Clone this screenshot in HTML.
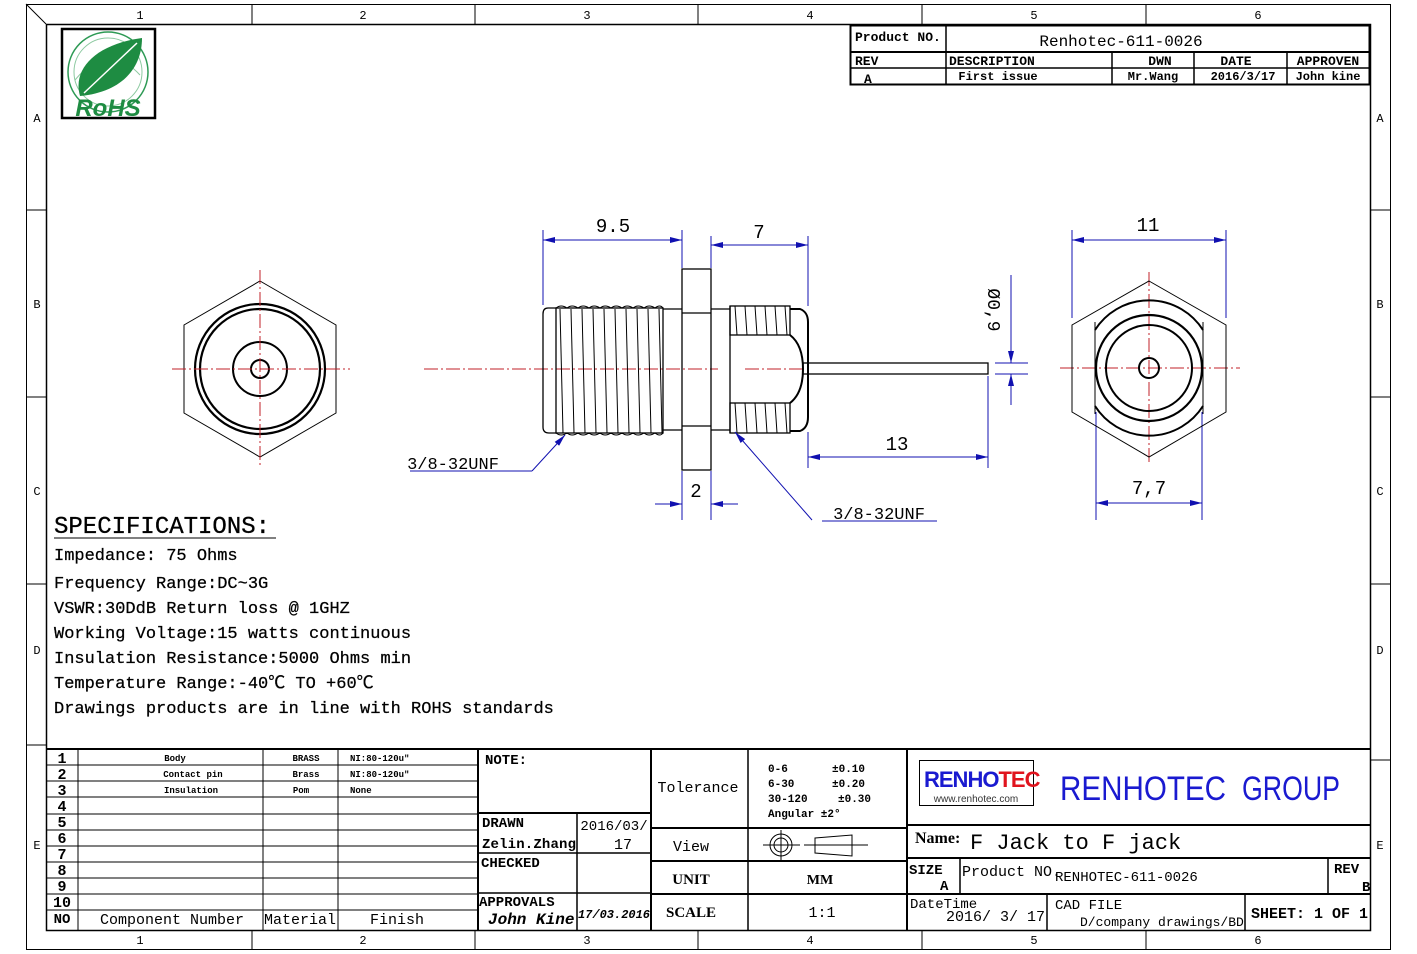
<!DOCTYPE html>
<html><head><meta charset="utf-8"><style>
html,body{margin:0;padding:0;background:#fff}
svg{display:block}
text{font-family:"Liberation Mono","Noto Sans CJK SC",monospace;fill:#000}
.s{font-family:"Liberation Serif","Noto Serif CJK SC",serif;font-weight:bold}
.d{font-family:"Liberation Sans",sans-serif;fill:#222}
</style></head><body>
<svg width="1417" height="954" viewBox="0 0 1417 954" xmlns="http://www.w3.org/2000/svg">
<defs>
<marker id="a" viewBox="0 0 12 6" refX="12" refY="3" markerWidth="12" markerHeight="6" orient="auto-start-reverse" markerUnits="userSpaceOnUse"><path d="M0,0L12,3L0,6z" fill="#1010b0"/></marker>
</defs>
<rect x="26.5" y="4.5" width="1364" height="945" fill="none" stroke="#000" stroke-width="1"/>
<rect x="46.5" y="24.5" width="1324" height="906" fill="none" stroke="#000" stroke-width="1.5"/>
<line x1="26" y1="4" x2="46" y2="24" stroke="#000"/>
<g stroke="#000" stroke-width="1">
<line x1="252" y1="4" x2="252" y2="24"/><line x1="475" y1="4" x2="475" y2="24"/><line x1="698" y1="4" x2="698" y2="24"/><line x1="922" y1="4" x2="922" y2="24"/><line x1="1146" y1="4" x2="1146" y2="24"/>
<line x1="252" y1="930" x2="252" y2="949"/><line x1="475" y1="930" x2="475" y2="949"/><line x1="698" y1="930" x2="698" y2="949"/><line x1="922" y1="930" x2="922" y2="949"/><line x1="1146" y1="930" x2="1146" y2="949"/>
<line x1="26" y1="210" x2="46" y2="210"/><line x1="26" y1="397" x2="46" y2="397"/><line x1="26" y1="584" x2="46" y2="584"/><line x1="26" y1="745" x2="46" y2="745"/>
<line x1="1370" y1="210" x2="1390" y2="210"/><line x1="1370" y1="397" x2="1390" y2="397"/><line x1="1370" y1="584" x2="1390" y2="584"/><line x1="1370" y1="760" x2="1390" y2="760"/>
</g>
<g font-size="12" text-anchor="middle" style="font-family:'Liberation Serif',serif">
<text x="140" y="19">1</text><text x="363" y="19">2</text><text x="587" y="19">3</text><text x="810" y="19">4</text><text x="1034" y="19">5</text><text x="1258" y="19">6</text>
<text x="140" y="944">1</text><text x="363" y="944">2</text><text x="587" y="944">3</text><text x="810" y="944">4</text><text x="1034" y="944">5</text><text x="1258" y="944">6</text>
<text x="37" y="122">A</text><text x="37" y="308">B</text><text x="37" y="495">C</text><text x="37" y="654">D</text><text x="37" y="849">E</text>
<text x="1380" y="122">A</text><text x="1380" y="308">B</text><text x="1380" y="495">C</text><text x="1380" y="654">D</text><text x="1380" y="849">E</text>
</g>
<rect x="62" y="29" width="93" height="89" fill="#fff" stroke="#000" stroke-width="2.5"/>
<circle cx="108" cy="72" r="40" fill="none" stroke="#2e9a55" stroke-width="1.5"/>
<circle cx="108" cy="72" r="34" fill="none" stroke="#8cc9a0" stroke-width="1"/>
<path d="M75,80 Q108,40 140,75" fill="none" stroke="#8cc9a0" stroke-width="1"/>
<path d="M80,96 C72,68 97,44 142,38 C142,68 122,92 80,96z" fill="#1e8c42"/>
<path d="M84,93 L137,43" stroke="#fff" stroke-width="1.5"/>
<text x="108" y="116" text-anchor="middle" font-size="24" font-weight="bold" style="font-family:'Liberation Sans',sans-serif;fill:#1e8c42;font-style:italic">RoHS</text>
<g stroke="#000" fill="none">
<rect x="850.5" y="25.5" width="519" height="59" stroke-width="2"/>
<line x1="850" y1="52" x2="1370" y2="52" stroke-width="2"/>
<line x1="850" y1="68" x2="1370" y2="68" stroke-width="1.5"/>
<line x1="946" y1="25" x2="946" y2="85" stroke-width="1.5"/>
<line x1="1112" y1="52" x2="1112" y2="85" stroke-width="1.5"/>
<line x1="1194" y1="52" x2="1194" y2="85" stroke-width="1.5"/>
<line x1="1287" y1="52" x2="1287" y2="85" stroke-width="1.5"/>
</g>
<g class="s">
<text x="855" y="41" font-size="13" style="font-family:'Liberation Mono',monospace">Product NO.</text>
<text x="1121" y="46" font-size="16" text-anchor="middle" style="font-family:'Liberation Mono',monospace;font-weight:normal">Renhotec-611-0026</text>
<text x="855" y="65" font-size="13">REV</text>
<text x="949" y="65" font-size="13">DESCRIPTION</text>
<text x="1160" y="65" font-size="13" text-anchor="middle">DWN</text>
<text x="1236" y="65" font-size="13" text-anchor="middle">DATE</text>
<text x="1328" y="65" font-size="13" text-anchor="middle">APPROVEN</text>
<text x="864" y="83" font-size="13">A</text>
<text x="998" y="80" font-size="12" text-anchor="middle">First issue</text>
<text x="1153" y="80" font-size="12" text-anchor="middle">Mr.Wang</text>
<text x="1243" y="80" font-size="12" text-anchor="middle">2016/3/17</text>
<text x="1328" y="80" font-size="12" text-anchor="middle">John kine</text>
</g>
<g fill="none" stroke="#000">
<polygon points="260,281 336,325 336,413 260,457 184,413 184,325" stroke-width="1"/>
<circle cx="260" cy="369" r="65" stroke-width="2.2"/>
<circle cx="260" cy="369" r="60" stroke-width="2.2"/>
<circle cx="260" cy="369" r="27" stroke-width="2"/>
<circle cx="260" cy="369" r="9" stroke-width="2"/>
</g>
<g stroke="#c0202a" stroke-width="1" stroke-dasharray="14,3,2,3">
<line x1="172" y1="369" x2="350" y2="369"/><line x1="260" y1="270" x2="260" y2="468"/>
<line x1="424" y1="369" x2="718" y2="369"/><line x1="745" y1="369" x2="805" y2="369"/>
<line x1="1060" y1="368" x2="1240" y2="368"/><line x1="1149" y1="272" x2="1149" y2="465"/>
</g>
<g fill="none" stroke="#000" stroke-width="1.3">
<path d="M556,308 L548,308 Q543,308 543,314 L543,427 Q543,433 549,433 L556,433"/>
<rect x="556" y="308" width="107" height="125"/>
<line x1="663" y1="309" x2="682" y2="309"/><line x1="663" y1="430" x2="682" y2="430"/>
<rect x="682" y="269" width="29" height="201"/>
<line x1="682" y1="313" x2="711" y2="313"/><line x1="682" y1="426" x2="711" y2="426"/>
<line x1="711" y1="309" x2="730" y2="309"/><line x1="711" y1="430" x2="730" y2="430"/>
<line x1="730" y1="306" x2="730" y2="433"/>
<rect x="730" y="306" width="60" height="29"/>
<rect x="730" y="403" width="60" height="30"/>
<path d="M790,309 L800,309 Q808,312 808,322 L808,417 Q808,428 800,431 L790,431" stroke-width="2"/>
<path d="M790,335 Q803,345 803,369 Q803,393 790,403" stroke-width="2"/>
<rect x="803" y="363" width="185" height="11"/>
</g>
<g stroke="#000" stroke-width="1" fill="none">
<path d="M560,309 l3,124 M571,309 l3,124 M582,309 l3,124 M593,309 l3,124 M604,309 l3,124 M615,309 l3,124 M626,309 l3,124 M637,309 l3,124 M648,309 l3,124 M659,309 l3,124"/>
<path d="M556,308 q5,-4 11,0 q5,-4 11,0 q5,-4 11,0 q5,-4 11,0 q5,-4 11,0 q5,-4 11,0 q5,-4 11,0 q5,-4 11,0 q5,-4 11,0 q5,-4 8,0"/>
<path d="M556,433 q5,4 11,0 q5,4 11,0 q5,4 11,0 q5,4 11,0 q5,4 11,0 q5,4 11,0 q5,4 11,0 q5,4 11,0 q5,4 11,0 q5,4 8,0"/>
<path d="M735,306 l2,29 M745,306 l2,29 M755,306 l2,29 M765,306 l2,29 M775,306 l2,29 M785,306 l2,29 M735,403 l2,30 M745,403 l2,30 M755,403 l2,30 M765,403 l2,30 M775,403 l2,30 M785,403 l2,30"/>
</g>
<g stroke="#1010b0" stroke-width="1" fill="none">
<line x1="543" y1="230" x2="543" y2="305"/><line x1="682" y1="230" x2="682" y2="268"/>
<line x1="543" y1="240" x2="682" y2="240" marker-start="url(#a)" marker-end="url(#a)"/>
<line x1="711" y1="236" x2="711" y2="268"/><line x1="808" y1="236" x2="808" y2="306"/>
<line x1="711" y1="245" x2="808" y2="245" marker-start="url(#a)" marker-end="url(#a)"/>
<line x1="808" y1="432" x2="808" y2="468"/><line x1="988" y1="376" x2="988" y2="468"/>
<line x1="808" y1="457" x2="988" y2="457" marker-start="url(#a)" marker-end="url(#a)"/>
<line x1="682" y1="471" x2="682" y2="520"/><line x1="711" y1="471" x2="711" y2="520"/>
<line x1="655" y1="504" x2="682" y2="504" marker-end="url(#a)"/><line x1="738" y1="504" x2="711" y2="504" marker-end="url(#a)"/>
<line x1="1011" y1="275" x2="1011" y2="363" marker-end="url(#a)"/><line x1="1011" y1="405" x2="1011" y2="374" marker-end="url(#a)"/>
<line x1="995" y1="363" x2="1028" y2="363"/><line x1="995" y1="374" x2="1028" y2="374"/>
<line x1="410" y1="471" x2="532" y2="471"/><line x1="532" y1="471" x2="565" y2="435" marker-end="url(#a)"/>
<line x1="822" y1="521" x2="937" y2="521"/><line x1="812" y1="520" x2="735" y2="432" marker-end="url(#a)"/>
<line x1="1072" y1="230" x2="1072" y2="318"/><line x1="1226" y1="230" x2="1226" y2="318"/>
<line x1="1072" y1="240" x2="1226" y2="240" marker-start="url(#a)" marker-end="url(#a)"/>
<line x1="1096" y1="412" x2="1096" y2="520"/><line x1="1202" y1="412" x2="1202" y2="520"/>
<line x1="1096" y1="503" x2="1202" y2="503" marker-start="url(#a)" marker-end="url(#a)"/>
</g>
<g class="d" font-size="19" text-anchor="middle">
<text x="613" y="232">9.5</text><text x="759" y="238">7</text><text x="897" y="450">13</text><text x="696" y="497">2</text>
<text x="1148" y="231">11</text><text x="1149" y="494">7,7</text>
<text x="453" y="469" font-size="17">3/8-32UNF</text><text x="879" y="519" font-size="17">3/8-32UNF</text>
<text transform="translate(988,310) rotate(90)" font-size="18">Ø0,9</text>
</g>
<g fill="none" stroke="#000">
<polygon points="1149,281 1226,325 1226,412 1149,457 1072,412 1072,325" stroke-width="1"/>
<path d="M1095,330 A64,64 0 0 1 1203,330 M1095,406 A64,64 0 0 0 1203,406" stroke-width="2"/>
<line x1="1095" y1="322" x2="1095" y2="414"/><line x1="1203" y1="322" x2="1203" y2="414"/>
<circle cx="1149" cy="368" r="53" stroke-width="2.2"/>
<circle cx="1149" cy="368" r="43" stroke-width="2"/>
<circle cx="1149" cy="368" r="10" stroke-width="2"/>
</g>
<text x="54" y="533" font-size="24" style="font-family:'Liberation Mono',monospace;stroke:#000;stroke-width:0.3">SPECIFICATIONS:</text>
<line x1="54" y1="538" x2="276" y2="538" stroke="#000"/>
<g font-size="17" style="stroke:#000;stroke-width:0.25">
<text x="54" y="560">Impedance: 75 Ohms</text>
<text x="54" y="588">Frequency Range:DC~3G</text>
<text x="54" y="613">VSWR:30DdB Return loss @ 1GHZ</text>
<text x="54" y="638">Working Voltage:15 watts continuous</text>
<text x="54" y="663">Insulation Resistance:5000 Ohms min</text>
<text x="54" y="688">Temperature Range:-40℃ TO +60℃</text>
<text x="54" y="713">Drawings products are in line with ROHS standards</text>
</g>
<g stroke="#000" fill="none" stroke-width="1">
<line x1="46" y1="749" x2="1370" y2="749" stroke-width="2"/>
<line x1="78" y1="749" x2="78" y2="930"/><line x1="263" y1="749" x2="263" y2="930"/><line x1="338" y1="749" x2="338" y2="930"/>
<line x1="478" y1="749" x2="478" y2="930" stroke-width="2"/>
<line x1="46" y1="765" x2="478" y2="765"/><line x1="46" y1="781" x2="478" y2="781"/><line x1="46" y1="797" x2="478" y2="797"/><line x1="46" y1="814" x2="478" y2="814"/><line x1="46" y1="830" x2="478" y2="830"/><line x1="46" y1="846" x2="478" y2="846"/><line x1="46" y1="862" x2="478" y2="862"/><line x1="46" y1="878" x2="478" y2="878"/><line x1="46" y1="894" x2="478" y2="894"/><line x1="46" y1="910" x2="478" y2="910"/>
<line x1="651" y1="749" x2="651" y2="930" stroke-width="2"/>
<line x1="478" y1="813" x2="651" y2="813" stroke-width="2"/><line x1="478" y1="853" x2="651" y2="853" stroke-width="1.5"/><line x1="478" y1="893" x2="651" y2="893" stroke-width="1.5"/>
<line x1="577" y1="813" x2="577" y2="930" stroke-width="1.5"/>
<line x1="748" y1="749" x2="748" y2="930" stroke-width="1.5"/>
<line x1="651" y1="828" x2="907" y2="828" stroke-width="2"/><line x1="651" y1="861" x2="907" y2="861" stroke-width="2"/><line x1="651" y1="894" x2="907" y2="894" stroke-width="2"/>
<line x1="907" y1="749" x2="907" y2="930" stroke-width="2"/>
<line x1="907" y1="825" x2="1370" y2="825" stroke-width="2"/><line x1="907" y1="858" x2="1370" y2="858" stroke-width="2"/><line x1="907" y1="894" x2="1370" y2="894" stroke-width="2"/>
<line x1="960" y1="858" x2="960" y2="894" stroke-width="1.5"/><line x1="1328" y1="858" x2="1328" y2="894" stroke-width="1.5"/>
<line x1="1047" y1="894" x2="1047" y2="930" stroke-width="1.5"/><line x1="1245" y1="894" x2="1245" y2="930" stroke-width="1.5"/>
</g>
<g class="s" font-size="15" text-anchor="middle">
<text x="62" y="763">1</text><text x="62" y="779">2</text><text x="62" y="795">3</text><text x="62" y="811">4</text><text x="62" y="827">5</text><text x="62" y="843">6</text><text x="62" y="859">7</text><text x="62" y="875">8</text><text x="62" y="891">9</text><text x="62" y="907">10</text>
<text x="62" y="923" font-size="14">NO</text>
</g>
<g class="s" font-size="9">
<text x="175" y="761" text-anchor="middle">Body</text><text x="193" y="777" text-anchor="middle">Contact pin</text><text x="191" y="793" text-anchor="middle">Insulation</text>
<text x="306" y="761" text-anchor="middle">BRASS</text><text x="306" y="777" text-anchor="middle">Brass</text><text x="301" y="793" text-anchor="middle">Pom</text>
<text x="350" y="761">NI:80-120u"</text><text x="350" y="777">NI:80-120u"</text><text x="350" y="793">None</text>
</g>
<g font-size="15" text-anchor="middle">
<text x="172" y="924">Component Number</text><text x="300" y="924">Material</text><text x="397" y="924">Finish</text>
</g>
<g class="s" font-size="14">
<text x="485" y="764">NOTE:</text>
<text x="482" y="827">DRAWN</text>
<text x="482" y="848" style="font-family:'Liberation Mono',monospace;font-weight:bold" font-size="14" textLength="94">Zelin.Zhang</text>
<text x="614" y="830" text-anchor="middle" style="font-family:'Liberation Mono',monospace;font-weight:normal" font-size="14">2016/03/</text>
<text x="623" y="849" text-anchor="middle" style="font-family:'Liberation Mono',monospace;font-weight:normal" font-size="15">17</text>
<text x="481" y="867">CHECKED</text>
<text x="479" y="906">APPROVALS</text>
<text x="488" y="924" style="font-style:italic" font-size="16">John Kine</text>
<text x="614" y="918" text-anchor="middle" style="font-style:italic" font-size="12">17/03.2016</text>
</g>
<g font-size="15" text-anchor="middle">
<text x="698" y="792">Tolerance</text><text x="691" y="851">View</text>
<text x="691" y="884" class="s">UNIT</text><text x="691" y="917" class="s">SCALE</text>
<text x="820" y="884" class="s" font-size="14">MM</text><text x="822" y="917">1:1</text>
</g>
<g class="s" font-size="11">
<text x="768" y="772">0-6</text><text x="832" y="772">±0.10</text>
<text x="768" y="787">6-30</text><text x="832" y="787">±0.20</text>
<text x="768" y="802">30-120</text><text x="838" y="802">±0.30</text>
<text x="768" y="817">Angular  ±2°</text>
</g>
<g stroke="#000" fill="none" stroke-width="1">
<circle cx="781" cy="845" r="11"/><circle cx="781" cy="845" r="7"/><line x1="763" y1="845" x2="800" y2="845"/><line x1="781" y1="830" x2="781" y2="860"/>
<path d="M815,838 L852,835 L852,856 L815,853z"/><line x1="804" y1="845" x2="868" y2="845"/>
</g>
<rect x="919.5" y="760.5" width="114" height="45" fill="none" stroke="#000"/>
<text x="924" y="787" font-size="22" font-weight="bold" style="font-family:'Liberation Sans',sans-serif;fill:#1a1ad0;letter-spacing:-1px">RENHO<tspan style="fill:#e0141e">TEC</tspan></text>
<text x="976" y="802" text-anchor="middle" font-size="10" style="font-family:'Liberation Sans',sans-serif;fill:#333">www.renhotec.com</text>
<text x="1060" y="800" font-size="34" textLength="166" lengthAdjust="spacingAndGlyphs" style="font-family:'Liberation Sans',sans-serif;fill:#1a1ad0">RENHOTEC</text>
<text x="1242" y="800" font-size="34" textLength="98" lengthAdjust="spacingAndGlyphs" style="font-family:'Liberation Sans',sans-serif;fill:#1a1ad0">GROUP</text>
<text x="915" y="843" class="s" font-size="16">Name:</text>
<text x="970" y="849" font-size="22">F Jack to F jack</text>
<g class="s" font-size="14">
<text x="909" y="874">SIZE</text><text x="940" y="890">A</text>
<text x="962" y="876" style="font-family:'Liberation Mono',monospace;font-weight:normal" font-size="15">Product NO.</text>
<text x="1055" y="881" style="font-family:'Liberation Mono',monospace;font-weight:normal" font-size="14">RENHOTEC-611-0026</text>
<text x="1334" y="873">REV</text><text x="1362" y="891">B</text>
<text x="910" y="908" style="font-family:'Liberation Mono',monospace;font-weight:normal" font-size="14">DateTime</text>
<text x="946" y="921" style="font-family:'Liberation Mono',monospace;font-weight:normal" font-size="15">2016/ 3/ 17</text>
<text x="1055" y="909" style="font-family:'Liberation Mono',monospace;font-weight:normal" font-size="14">CAD FILE</text>
<text x="1080" y="926" style="font-family:'Liberation Mono',monospace;font-weight:normal" font-size="13">D/company drawings/BD</text>
<text x="1251" y="918" font-size="15">SHEET: 1 OF 1</text>
</g>
</svg>
</body></html>
